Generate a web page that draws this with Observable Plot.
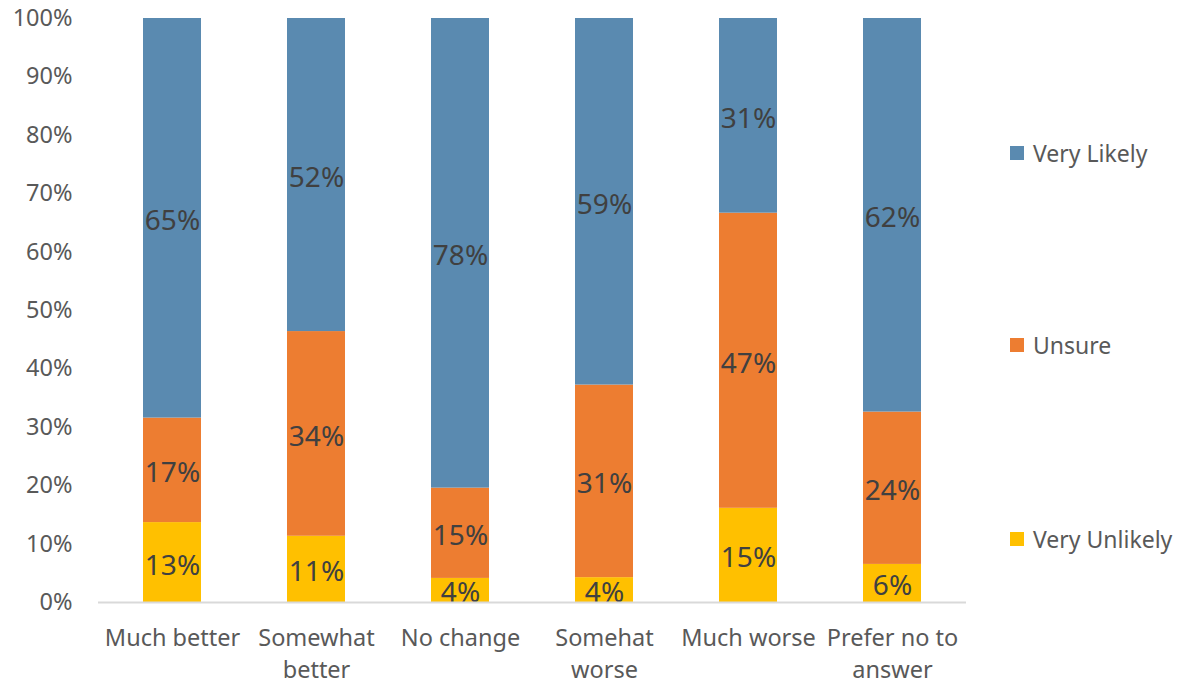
<!DOCTYPE html>
<html>
<head>
<meta charset="utf-8">
<script src="https://cdn.jsdelivr.net/npm/d3@7"></script>
<script src="https://cdn.jsdelivr.net/npm/@observablehq/plot@0.6"></script>
<style>
  html, body { margin: 0; padding: 0; background: #fff; }
  #wrap { position: relative; width: 1192px; height: 685px; font-family: "Noto Sans", sans-serif; }
  #legend { position: absolute; left: 1010px; top: 0; }
  .item { position: absolute; display: flex; align-items: center; white-space: nowrap; font-size: 23px; color: #595959; }
  .sw { width: 14px; height: 14px; margin-right: 9px; }
</style>
</head>
<body>
<div id="wrap"><div id="chart"></div><div id="legend"></div></div>
<script>
const categories = ["Much better", "Somewhat better", "No change", "Somehat worse", "Much worse", "Prefer no to answer"];
const tickLabels = ["Much better", "Somewhat\nbetter", "No change", "Somehat\nworse", "Much worse", "Prefer no to\nanswer"];
const series = ["Very Unlikely", "Unsure", "Very Likely"];
const veryUnlikely = [13, 11, 4, 4, 15, 6];
const unsure = [17, 34, 15, 31, 47, 24];
const veryLikely = [65, 52, 78, 59, 31, 62];
const colors = ["#FFC000", "#ED7D31", "#5A8AB0"];

const valuesBySeries = [veryUnlikely, unsure, veryLikely];
const data = [];
series.forEach((s, si) => {
  categories.forEach((c, ci) => {
    data.push({category: c, series: s, value: valuesBySeries[si][ci]});
  });
});

const labelMap = new Map(categories.map((c, i) => [c, tickLabels[i]]));

const stackOpts = {x: "category", y: "value", z: "series", offset: "normalize", order: series};

const chart = Plot.plot({
  width: 980,
  height: 685,
  marginLeft: 98,
  marginRight: 14,
  marginTop: 18,
  marginBottom: 83,
  style: {fontFamily: "Noto Sans, sans-serif", background: "#fff"},
  x: {domain: categories, paddingInner: 0.6, paddingOuter: 0.3, label: null},
  y: {domain: [0, 1], label: null},
  color: {domain: series, range: colors},
  marks: [
    Plot.barY(data, Plot.stackY({...stackOpts, fill: "series"})),
    Plot.text(data, Plot.stackY({...stackOpts, text: d => d.value + "%", fill: "#404040", fontSize: 28, dy: 3})),
    Plot.ruleY([0], {stroke: "#d9d9d9", strokeWidth: 2}),
    Plot.axisY({ticks: d3.range(0, 1.0001, 0.1), tickFormat: d3.format(".0%"), tickSize: 0, tickPadding: 26, fontSize: 23.5, fill: "#595959", label: null}),
    Plot.axisX({tickSize: 0, tickPadding: 21, fontSize: 23.5, fill: "#595959", lineHeight: 1.36, tickFormat: d => labelMap.get(d), label: null})
  ]
});
document.getElementById("chart").appendChild(chart);

const legendY = {"Very Likely": 153, "Unsure": 345, "Very Unlikely": 539};
const legend = document.getElementById("legend");
series.forEach((s, i) => {
  const it = document.createElement("div");
  it.className = "item";
  it.style.top = (legendY[s] - 16) + "px";
  it.style.height = "32px";
  it.innerHTML = `<span class="sw" style="background:${colors[i]}"></span><span>${s}</span>`;
  legend.appendChild(it);
});
</script>
</body>
</html>
